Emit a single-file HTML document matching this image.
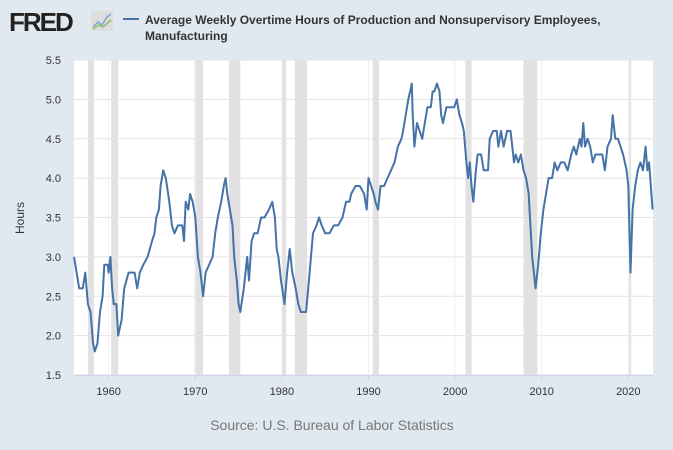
<!DOCTYPE html>
<html><head><meta charset="utf-8"><style>
body{margin:0;background:#e1e9f0;font-family:"Liberation Sans",sans-serif;}
svg{display:block}
</style></head><body>
<svg id="chart" width="673" height="450">
<rect x="0" y="0" width="673" height="450" fill="#e1e9f0"/>
<g>
<text x="9" y="31" font-size="26" font-weight="bold" fill="#222" letter-spacing="-2" font-family="Liberation Sans, sans-serif">FRED</text>
<rect x="91" y="11" width="22" height="20" fill="#ddd" rx="2"/>
<polyline points="93,27 98,22 102,25 107,17 111,14" fill="none" stroke="#7aa6d6" stroke-width="1.5"/>
<polyline points="93,29 99,25 103,27 111,20" fill="none" stroke="#8fc06a" stroke-width="1.5"/>
</g>
<line x1="123" y1="19" x2="139" y2="19" stroke="#4572a7" stroke-width="2"/>
<text x="145" y="24" font-size="12" fill="#333" font-weight="bold">Average Weekly Overtime Hours of Production and Nonsupervisory Employees,</text>
<text x="145" y="40" font-size="12" fill="#333" font-weight="bold">Manufacturing</text>
<rect x="74" y="60" width="579" height="315" fill="#fff"/>
<g id="rec"></g><g id="grid"></g><g id="ticks"></g>
<path id="line" fill="none" stroke="#4572a7" stroke-width="2" stroke-linejoin="round"/>
<text transform="translate(24,218) rotate(-90)" text-anchor="middle" font-size="12" fill="#333">Hours</text>
<text x="332" y="430" text-anchor="middle" font-size="14" fill="#777">Source: U.S. Bureau of Labor Statistics</text>
</svg>
<script>
const dates=[1956.0,1956.3,1956.6,1957.0,1957.3,1957.6,1957.9,1958.2,1958.4,1958.7,1959.0,1959.3,1959.5,1959.9,1960.0,1960.2,1960.4,1960.6,1960.9,1961.1,1961.5,1961.8,1962.3,1963.0,1963.3,1963.6,1964.0,1964.5,1965.0,1965.3,1965.5,1965.8,1966.0,1966.3,1966.6,1967.0,1967.3,1967.6,1968.0,1968.5,1968.7,1968.9,1969.2,1969.4,1969.7,1970.0,1970.3,1970.6,1970.8,1970.9,1971.2,1971.6,1972.0,1972.3,1972.6,1973.0,1973.3,1973.5,1973.7,1974.0,1974.3,1974.5,1974.8,1975.0,1975.2,1975.6,1976.0,1976.2,1976.5,1976.8,1977.2,1977.6,1978.0,1978.5,1978.9,1979.2,1979.4,1979.6,1979.9,1980.3,1980.6,1980.9,1981.2,1981.6,1981.9,1982.2,1982.5,1982.8,1983.2,1983.6,1984.0,1984.3,1984.6,1985.0,1985.5,1986.0,1986.5,1987.0,1987.4,1987.8,1988.0,1988.5,1989.0,1989.5,1989.8,1990.0,1990.3,1990.6,1990.8,1991.1,1991.4,1991.8,1992.2,1992.6,1993.0,1993.4,1993.8,1994.0,1994.3,1994.6,1994.8,1995.0,1995.1,1995.3,1995.6,1995.9,1996.2,1996.5,1996.8,1997.2,1997.4,1997.6,1997.9,1998.2,1998.4,1998.6,1999.0,1999.5,1999.9,2000.2,2000.5,2000.8,2001.0,2001.3,2001.5,2001.7,2001.9,2002.1,2002.4,2002.6,2003.0,2003.3,2003.8,2004.0,2004.4,2004.8,2005.0,2005.3,2005.6,2006.0,2006.4,2006.6,2006.8,2007.0,2007.3,2007.6,2007.9,2008.2,2008.5,2008.7,2008.9,2009.1,2009.3,2009.6,2009.9,2010.2,2010.5,2010.8,2011.2,2011.5,2011.8,2012.2,2012.6,2013.0,2013.4,2013.7,2014.0,2014.4,2014.6,2014.8,2015.0,2015.3,2015.6,2015.9,2016.2,2016.6,2017.0,2017.3,2017.6,2018.0,2018.2,2018.5,2018.8,2019.1,2019.4,2019.8,2020.0,2020.25,2020.5,2020.8,2021.1,2021.4,2021.7,2022.0,2022.2,2022.4,2022.6,2022.8];
const values=[3.0,2.8,2.6,2.6,2.8,2.4,2.3,1.9,1.8,1.9,2.3,2.5,2.9,2.9,2.8,3.0,2.6,2.4,2.4,2.0,2.2,2.6,2.8,2.8,2.6,2.8,2.9,3.0,3.2,3.3,3.5,3.6,3.9,4.1,4.0,3.7,3.4,3.3,3.4,3.4,3.2,3.7,3.6,3.8,3.7,3.5,3.0,2.8,2.6,2.5,2.8,2.9,3.0,3.3,3.5,3.7,3.9,4.0,3.8,3.6,3.4,3.0,2.7,2.4,2.3,2.6,3.0,2.7,3.2,3.3,3.3,3.5,3.5,3.6,3.7,3.5,3.1,3.0,2.7,2.4,2.8,3.1,2.8,2.6,2.4,2.3,2.3,2.3,2.8,3.3,3.4,3.5,3.4,3.3,3.3,3.4,3.4,3.5,3.7,3.7,3.8,3.9,3.9,3.8,3.6,4.0,3.9,3.8,3.7,3.6,3.9,3.9,4.0,4.1,4.2,4.4,4.5,4.6,4.8,5.0,5.1,5.2,4.8,4.4,4.7,4.6,4.5,4.7,4.9,4.9,5.1,5.1,5.2,5.1,4.8,4.7,4.9,4.9,4.9,5.0,4.8,4.7,4.6,4.2,4.0,4.2,3.9,3.7,4.1,4.3,4.3,4.1,4.1,4.5,4.6,4.6,4.4,4.6,4.4,4.6,4.6,4.4,4.2,4.3,4.2,4.3,4.1,4.0,3.8,3.4,3.0,2.8,2.6,2.9,3.3,3.6,3.8,4.0,4.0,4.2,4.1,4.2,4.2,4.1,4.3,4.4,4.3,4.5,4.4,4.7,4.4,4.5,4.4,4.2,4.3,4.3,4.3,4.1,4.4,4.5,4.8,4.5,4.5,4.4,4.3,4.1,3.9,2.8,3.6,3.9,4.1,4.2,4.1,4.4,4.1,4.2,3.9,3.6];
const recStart=[1957.6,1960.3,1969.9,1973.9,1980.0,1981.5,1990.5,2001.2,2007.9,2020.1];
const recEnd=[1958.3,1961.1,1970.9,1975.2,1980.5,1982.9,1991.2,2001.9,2009.5,2020.3];
const yTicks=[1.5,2.0,2.5,3.0,3.5,4.0,4.5,5.0,5.5];
const xTicks=[1960,1970,1980,1990,2000,2010,2020];
const X0=74,X1=653,Y0=60,Y1=375,XMIN=1956.0,XMAX=2022.85,YMIN=1.5,YMAX=5.5;
const NS='http://www.w3.org/2000/svg';
function xs(t){return X0+(t-XMIN)/(XMAX-XMIN)*(X1-X0);}
function ys(v){return Y1-(v-YMIN)/(YMAX-YMIN)*(Y1-Y0);}
function mk(tag,a,parent){const e=document.createElementNS(NS,tag);for(const k in a)e.setAttribute(k,a[k]);document.getElementById(parent).appendChild(e);return e;}
recStart.forEach((s,i)=>{
 const r=mk('rect',{x:xs(s),y:Y0,width:Math.max(2,xs(recEnd[i])-xs(s)),height:Y1-Y0,fill:'#e1e1e1'},'rec');
 
 
});
yTicks.forEach(v=>{
 const l=mk('line',{x1:X0,x2:X1,y1:ys(v),y2:ys(v),stroke:'#e3e3e3','stroke-width':1},'grid');
 
 
 const t=mk('text',{x:61,y:ys(v)+4,'text-anchor':'end','font-size':11,fill:'#333'},'ticks');
 t.textContent=v.toFixed(1);
 
 
});
xTicks.forEach(v=>{
 const l=mk('line',{x1:xs(v),x2:xs(v),y1:Y0,y2:Y1,stroke:'#f0f0f0','stroke-width':1},'grid');
 
 
 const tk=mk('line',{x1:xs(v),x2:xs(v),y1:Y1,y2:Y1+6,stroke:'#ccd6eb'},'ticks');
 
 
 const t=mk('text',{x:xs(v),y:Y1+20,'text-anchor':'middle','font-size':11,fill:'#333'},'ticks');
 t.textContent=v;
 
 
});
const ax=mk('line',{x1:X0,x2:X1,y1:Y1+0.5,y2:Y1+0.5,stroke:'#ccd6eb'},'ticks');


document.getElementById('line').setAttribute('d',dates.map((t,i)=>(i?'L':'M')+xs(t).toFixed(1)+','+ys(values[i]).toFixed(1)).join(''));
</script>
</body></html>
